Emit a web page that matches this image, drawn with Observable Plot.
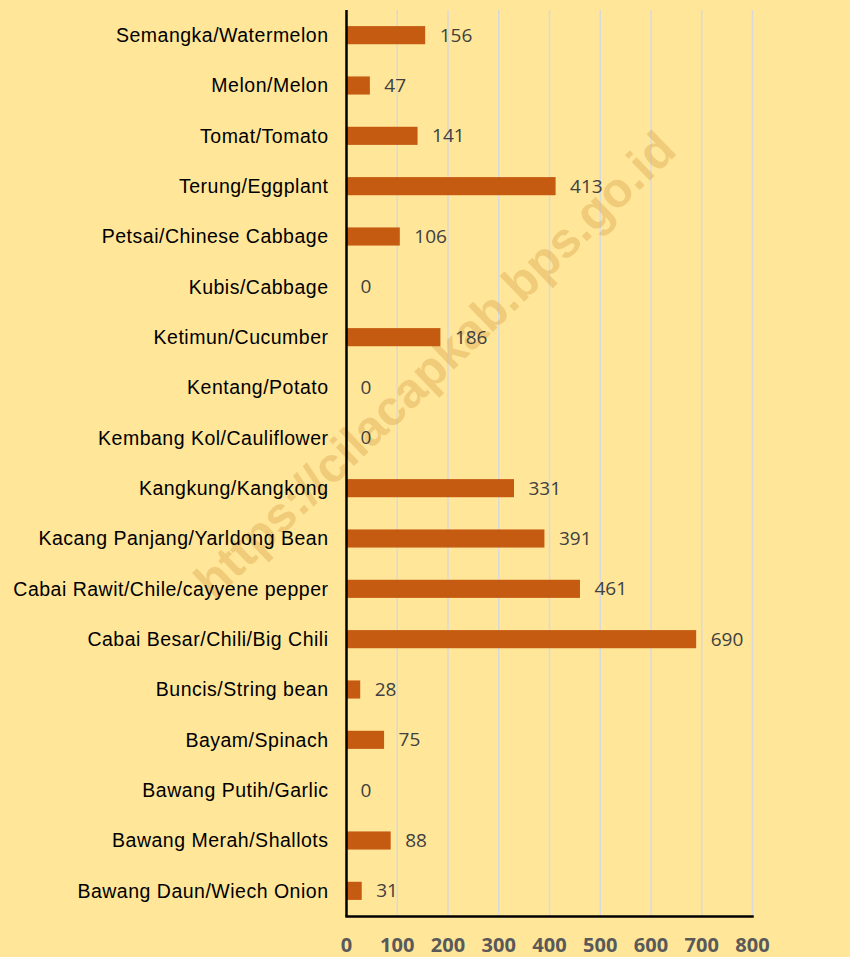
<!DOCTYPE html>
<html>
<head>
<meta charset="utf-8">
<script src="https://cdn.jsdelivr.net/npm/d3@7"></script>
<script src="https://cdn.jsdelivr.net/npm/@observablehq/plot@0.6"></script>
<style>
  html, body { margin: 0; padding: 0; background: #FFE699; }
  #chart { width: 850px; height: 957px; }
  g[aria-label="y-axis tick label"] text { letter-spacing: 0.5px; }
</style>
</head>
<body>
<div id="chart"></div>
<script>
const categories = [
  "Semangka/Watermelon",
  "Melon/Melon",
  "Tomat/Tomato",
  "Terung/Eggplant",
  "Petsai/Chinese Cabbage",
  "Kubis/Cabbage",
  "Ketimun/Cucumber",
  "Kentang/Potato",
  "Kembang Kol/Cauliflower",
  "Kangkung/Kangkong",
  "Kacang Panjang/Yarldong Bean",
  "Cabai Rawit/Chile/cayyene pepper",
  "Cabai Besar/Chili/Big Chili",
  "Buncis/String bean",
  "Bayam/Spinach",
  "Bawang Putih/Garlic",
  "Bawang Merah/Shallots",
  "Bawang Daun/Wiech Onion"
];
const values = [156, 47, 141, 413, 106, 0, 186, 0, 0, 331, 391, 461, 690, 28, 75, 0, 88, 31];
const xTicks = [0, 100, 200, 300, 400, 500, 600, 700, 800];
const watermark = ["https://cilacapkab.bps.go.id"];

const data = categories.map((c, i) => ({category: c, value: values[i]}));

const chart = Plot.plot({
  width: 850,
  height: 957,
  marginLeft: 346,
  marginRight: 98,
  marginTop: 10,
  marginBottom: 41,
  style: {background: "#FFE699", overflow: "visible"},
  x: {domain: [0, 800], ticks: xTicks, label: null},
  y: {domain: categories, label: null, paddingInner: 0.64, paddingOuter: 0.32, round: false},
  marks: [
    Plot.ruleX(xTicks.filter(d => d > 0), {stroke: "#D9D9D9", strokeWidth: 1.5}),
    Plot.text(watermark, {
      frameAnchor: "middle", dx: -114, dy: -98, rotate: -44,
      fontSize: 49, fontWeight: "bold", fontFamily: "Liberation Sans, Arial, sans-serif",
      fill: "#D9A84E", fillOpacity: 0.42
    }),
    Plot.barX(data, {y: "category", x: "value", fill: "#C55A11"}),
    Plot.text(data, {
      y: "category", x: "value", text: d => String(d.value),
      textAnchor: "start", dx: 14, fontSize: 19,
      fontFamily: "Open Sans, sans-serif", fill: "#404040"
    }),
    Plot.axisY({
      tickSize: 0, tickPadding: 18, fontSize: 19.5,
      fontFamily: "Liberation Sans, Arial, sans-serif", fill: "#000", label: null
    }),
    Plot.axisX({
      ticks: xTicks, tickSize: 0, tickPadding: 21, fontSize: 20, fontWeight: "bold",
      fontFamily: "Open Sans, sans-serif", fill: "#595959", label: null
    }),
    Plot.frame({anchor: "bottom", stroke: "#000", strokeWidth: 2.5}),
    Plot.ruleX([0], {stroke: "#000", strokeWidth: 2.5})
  ]
});

document.getElementById("chart").appendChild(chart);
</script>
</body>
</html>
